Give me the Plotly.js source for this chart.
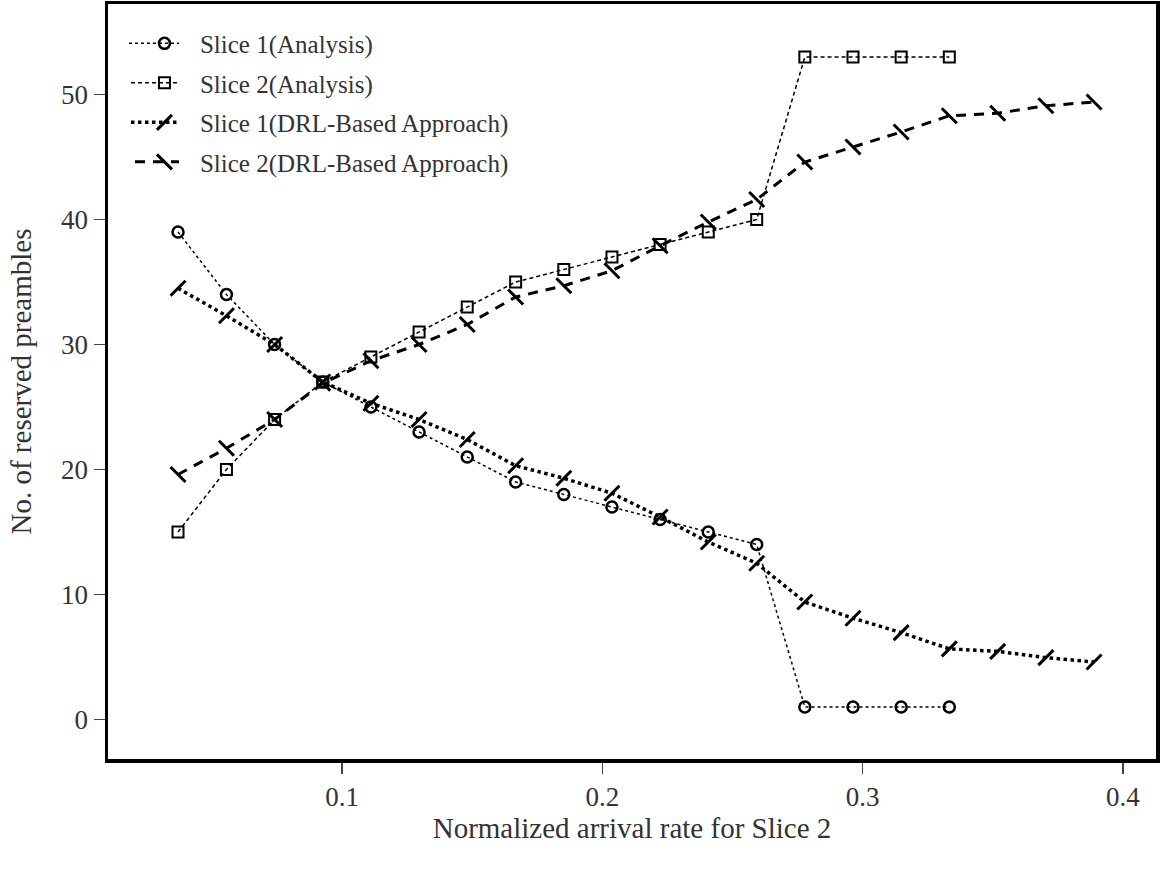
<!DOCTYPE html>
<html>
<head>
<meta charset="utf-8">
<script src="https://cdn.plot.ly/plotly-3.0.1.min.js"></script>
<style>html,body{margin:0;padding:0;background:#fff;}#chart{width:1161px;height:869px;}</style>
</head>
<body>
<div id="chart"></div>
<script>
const xAnalysis = [0.037, 0.0556, 0.0741, 0.0926, 0.1111, 0.1296, 0.1481, 0.1667, 0.1852, 0.2037, 0.2222, 0.2407, 0.2593, 0.2778, 0.2963, 0.3148, 0.3333];
const slice1Analysis = [39, 34, 30, 27, 25, 23, 21, 19, 18, 17, 16, 15, 14, 1, 1, 1, 1];
const slice2Analysis = [15, 20, 24, 27, 29, 31, 33, 35, 36, 37, 38, 39, 40, 53, 53, 53, 53];
const xDRL = [0.037, 0.0556, 0.0741, 0.0926, 0.1111, 0.1296, 0.1481, 0.1667, 0.1852, 0.2037, 0.2222, 0.2407, 0.2593, 0.2778, 0.2963, 0.3148, 0.3333, 0.3519, 0.3704, 0.3889];
const slice1DRL = [34.5, 32.3, 30, 27, 25.3, 24, 22.4, 20.3, 19.3, 18.1, 16.2, 14.2, 12.5, 9.4, 8.1, 6.95, 5.65, 5.45, 4.95, 4.6];
const slice2DRL = [19.6, 21.7, 24, 26.9, 28.7, 30, 31.6, 33.8, 34.7, 35.9, 37.9, 39.8, 41.6, 44.6, 45.8, 47, 48.3, 48.5, 49.1, 49.4];
const names = ['Slice 1(Analysis)', 'Slice 2(Analysis)', 'Slice 1(DRL-Based Approach)', 'Slice 2(DRL-Based Approach)'];
const xTicks = [0.1, 0.2, 0.3, 0.4];
const yTicks = [0, 10, 20, 30, 40, 50];

const traces = [
  {x: xAnalysis, y: slice1Analysis, name: names[0], legendgroup: 'a', mode: 'lines+markers',
   line: {color: '#000', width: 1.5, dash: 'dot'},
   marker: {symbol: 'circle-open', size: 11, color: '#000', line: {width: 2.5, color: '#000'}}},
  {x: xAnalysis, y: slice2Analysis, name: names[1], legendgroup: 'b', mode: 'lines+markers',
   line: {color: '#000', width: 1.5, dash: '4px,3px'},
   marker: {symbol: 'square-open', size: 11, color: '#000', line: {width: 2, color: '#000'}}},
  {x: xDRL, y: slice1DRL, name: names[2], legendgroup: 'c', mode: 'lines+markers',
   line: {color: '#000', width: 3.5, dash: 'dot'},
   marker: {symbol: 'line-ne', size: 15, color: '#000', line: {width: 3, color: '#000'}}},
  {x: xDRL, y: slice2DRL, name: names[3], legendgroup: 'd', mode: 'lines+markers',
   line: {color: '#000', width: 3, dash: '10px,8px'},
   marker: {symbol: 'line-nw', size: 15, color: '#000', line: {width: 3, color: '#000'}}}
];

const font = {family: '"Liberation Serif", "Times New Roman", serif', color: '#333'};

const layout = {
  width: 1161, height: 869,
  margin: {l: 108, r: 5, t: 4, b: 110},
  paper_bgcolor: '#fff', plot_bgcolor: '#fff',
  font: Object.assign({size: 28}, font),
  showlegend: true,
  legend: {x: 0.02, y: 0.978, xanchor: 'left', yanchor: 'top', bgcolor: 'rgba(0,0,0,0)',
           font: Object.assign({size: 25}, font), itemwidth: 61, tracegroupgap: 4},
  xaxis: {range: [0.0101, 0.4127], tickvals: xTicks, ticktext: xTicks.map(String),
          showgrid: false, zeroline: false, showline: true, linecolor: '#000', linewidth: 3.5, mirror: true,
          ticks: 'outside', ticklen: 11, tickwidth: 1.5, tickcolor: '#444',
          tickfont: Object.assign({size: 27}, font),
          title: {text: 'Normalized arrival rate for Slice 2', font: Object.assign({size: 29}, font), standoff: 0}},
  yaxis: {range: [-3.16, 57.24], tickvals: yTicks, ticktext: yTicks.map(String),
          showgrid: false, zeroline: false, showline: true, linecolor: '#000', linewidth: 3.5, mirror: true,
          ticks: 'outside', ticklen: 11, tickwidth: 1.5, tickcolor: '#444',
          tickfont: Object.assign({size: 27}, font),
          title: {text: 'No. of reserved preambles', font: Object.assign({size: 29}, font), standoff: 22}}
};

Plotly.newPlot('chart', traces, layout, {displayModeBar: false, staticPlot: true}).then(function (gd) {
  // lengthen legend line samples to match reference
  gd.querySelectorAll('.legend path.js-line').forEach(function (p) {
    p.setAttribute('d', 'M-12,0h62');
  });
});
</script>
</body>
</html>
